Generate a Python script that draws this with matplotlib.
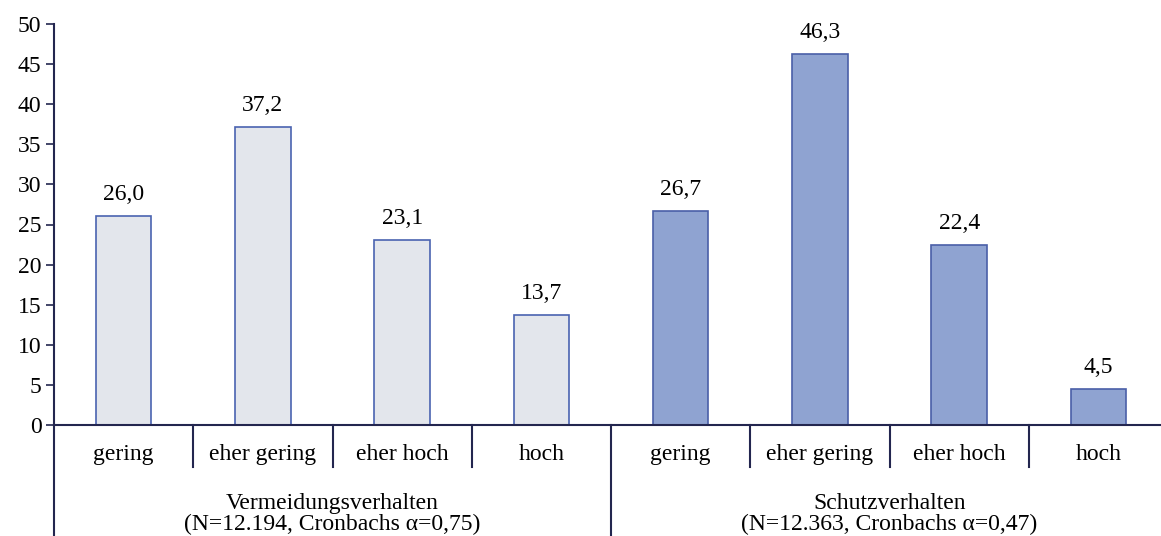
import matplotlib.pyplot as plt

plt.rcParams['font.family'] = ['Liberation Serif', 'DejaVu Serif']

levels = ["gering", "eher gering", "eher hoch", "hoch"]
groups = ["Vermeidungsverhalten\n(N=12.194, Cronbachs α=0,75)",
          "Schutzverhalten\n(N=12.363, Cronbachs α=0,47)"]
vermeidung = [26.0, 37.2, 23.1, 13.7]
schutz = [26.7, 46.3, 22.4, 4.5]

navy = "#23264f"

fig = plt.figure(figsize=(11.61, 5.36), dpi=100)
ax = fig.add_axes([54 / 1161, 1 - 425 / 536, 1114 / 1161, 401 / 536])

x1 = list(range(4))
x2 = [i + 4 for i in range(4)]
ax.bar(x1, vermeidung, width=0.4, color="#e3e6ec", edgecolor="#4a63b0", linewidth=1.2)
ax.bar(x2, schutz, width=0.4, color="#8fa3d1", edgecolor="#4a5fa8", linewidth=1.2)

for x, v in zip(x1 + x2, vermeidung + schutz):
    ax.text(x, v + 2.0, f"{v:.1f}".replace(".", ","), ha="center", va="baseline", fontsize=17)

ax.set_xlim(-0.5, 7.5)
ax.set_ylim(0, 50)
ax.set_yticks(range(0, 51, 5))
ax.tick_params(axis="y", labelsize=17, length=6, width=1.2, color=navy, direction="out", pad=3)
ax.set_xticks([])

for s in ["top", "right"]:
    ax.spines[s].set_visible(False)
for s in ["left", "bottom"]:
    ax.spines[s].set_color(navy)
    ax.spines[s].set_linewidth(1.5)

tr = ax.get_xaxis_transform()
for i, lab in enumerate(levels * 2):
    ax.text(i, -0.074, lab, transform=tr, ha="center", va="center", fontsize=17)

# separators below the axis
for b in [0.5, 1.5, 2.5, 4.5, 5.5, 6.5]:
    ax.plot([b, b], [0, -0.105], transform=tr, color=navy, lw=1.5, clip_on=False)
for b in [-0.5, 3.5]:
    ax.plot([b, b], [0, -0.3], transform=tr, color=navy, lw=1.5, clip_on=False)

for g, lab in enumerate(groups):
    ax.text(1.5 + 4 * g, -0.222, lab, transform=tr, ha="center", va="center",
            fontsize=17, linespacing=1.0)

fig.savefig("out.png", dpi=100)
